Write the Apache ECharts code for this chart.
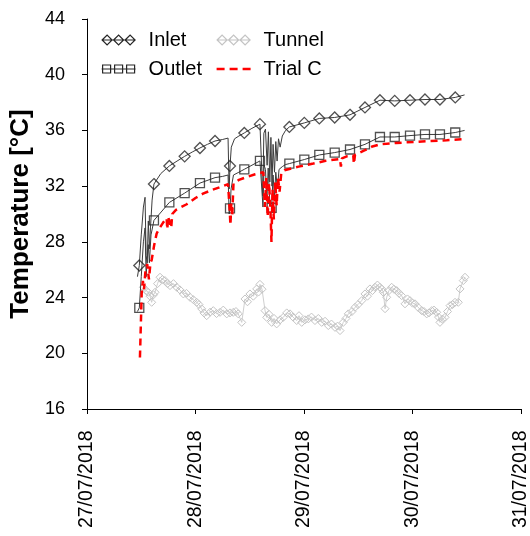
<!DOCTYPE html>
<html><head><meta charset="utf-8">
<script src="https://cdn.jsdelivr.net/npm/echarts@6/dist/echarts.min.js"></script>
<style>html,body{margin:0;padding:0;background:#fff}#c{width:530px;height:536px}</style>
</head><body><div id="c"></div>
<script>
// x values are days after 27/07/2018 00:00
const dateLabels = ['27/07/2018','28/07/2018','29/07/2018','30/07/2018','31/07/2018'];
const yMin = 16, yMax = 44, yStep = 4;

const inletMarks = [[0.482,26.3],[0.617,32.15],[0.759,33.45],[0.900,34.14],[1.041,34.74],[1.180,35.24],[1.318,33.45],[1.450,35.82],[1.594,36.45],[1.865,36.25],[2.003,36.54],[2.141,36.86],[2.283,36.93],[2.424,37.12],[2.562,37.65],[2.700,38.17],[2.836,38.12],[2.977,38.17],[3.115,38.22],[3.253,38.22],[3.394,38.37]];
const inletTrace = [[0.465,25.5],[0.500,28.5],[0.520,30.5],[0.535,31.2],[0.545,27.0],[0.555,26.5],[0.565,29.5],[0.575,27.5],[0.585,29.0],[0.600,31.0],[0.680,32.9],[0.830,33.8],[0.970,34.45],[1.110,35.0],[1.250,35.35],[1.300,35.45],[1.310,31.8],[1.330,34.8],[1.360,35.4],[1.400,35.6],[1.520,36.15],[1.612,36.4],[1.620,31.3],[1.630,35.8],[1.645,36.1],[1.660,33.5],[1.672,35.9],[1.685,32.3],[1.695,35.5],[1.705,32.0],[1.715,35.0],[1.728,33.0],[1.740,35.2],[1.752,33.8],[1.765,35.4],[1.780,34.8],[1.800,35.6],[1.830,36.0],[3.480,38.55]];

const outletMarks = [[0.482,23.26],[0.617,29.54],[0.759,30.83],[0.900,31.5],[1.041,32.22],[1.180,32.61],[1.318,30.4],[1.450,33.21],[1.594,33.81],[1.702,30.45],[1.865,33.62],[2.003,33.91],[2.141,34.24],[2.283,34.41],[2.424,34.63],[2.562,35.0],[2.700,35.53],[2.836,35.53],[2.977,35.63],[3.115,35.71],[3.253,35.71],[3.394,35.85]];
const outletTrace = [[0.465,23.0],[0.500,25.5],[0.520,28.0],[0.535,29.0],[0.545,25.5],[0.555,26.8],[0.565,27.8],[0.575,26.5],[0.590,28.5],[1.250,32.7],[1.300,32.8],[1.310,30.0],[1.328,31.8],[1.350,32.8],[1.400,33.0],[1.612,33.85],[1.622,30.5],[1.632,33.5],[1.645,33.2],[1.658,31.0],[1.670,33.3],[1.685,30.8],[1.715,32.8],[1.728,31.2],[1.740,33.0],[1.755,31.8],[1.770,33.2],[1.800,33.4],[1.830,33.55],[3.480,36.0]];

const tunnel = [[0.519,24.74],[0.544,24.5],[0.565,24.38],[0.581,24.1],[0.596,23.66],[0.613,24.2],[0.627,24.38],[0.650,25.0],[0.673,25.46],[0.696,25.3],[0.719,25.22],[0.742,25.0],[0.765,24.86],[0.797,25.0],[0.827,24.74],[0.857,24.55],[0.888,24.26],[0.917,24.3],[0.949,24.02],[0.980,23.85],[1.011,23.66],[1.032,23.5],[1.057,23.19],[1.078,22.9],[1.103,22.70],[1.134,22.95],[1.164,23.06],[1.194,22.85],[1.226,22.94],[1.256,23.1],[1.288,22.83],[1.318,22.9],[1.348,22.94],[1.373,23.0],[1.394,22.83],[1.426,22.22],[1.456,23.9],[1.479,23.7],[1.502,24.26],[1.533,24.1],[1.564,24.62],[1.581,24.4],[1.594,24.95],[1.613,24.6],[1.641,23.06],[1.656,22.58],[1.677,22.8],[1.702,22.22],[1.724,22.5],[1.748,22.11],[1.779,22.4],[1.809,22.58],[1.841,22.9],[1.871,22.83],[1.899,22.6],[1.933,22.35],[1.954,22.7],[1.979,22.22],[2.009,22.4],[2.040,22.47],[2.069,22.6],[2.101,22.35],[2.132,22.5],[2.163,22.22],[2.194,22.3],[2.224,21.99],[2.253,22.1],[2.286,21.86],[2.309,21.95],[2.332,21.63],[2.362,22.22],[2.387,22.5],[2.408,22.83],[2.442,23.0],[2.470,23.3],[2.498,23.5],[2.532,23.78],[2.562,24.26],[2.585,24.1],[2.608,24.62],[2.631,24.5],[2.654,24.74],[2.677,24.9],[2.700,24.74],[2.719,24.6],[2.731,24.38],[2.747,23.2],[2.762,24.02],[2.783,24.5],[2.808,24.74],[2.829,24.6],[2.854,24.5],[2.876,24.3],[2.900,24.14],[2.931,23.55],[2.954,23.9],[2.977,23.78],[3.000,23.6],[3.023,23.55],[3.051,23.3],[3.085,23.06],[3.106,23.0],[3.131,22.83],[3.152,22.9],[3.177,23.06],[3.198,23.1],[3.223,22.94],[3.240,22.6],[3.253,22.22],[3.276,22.45],[3.300,22.58],[3.323,23.0],[3.346,23.42],[3.369,23.5],[3.392,23.66],[3.422,23.66],[3.438,24.62],[3.468,25.22],[3.484,25.46]];

const trialC = [[0.488,19.7],[0.504,24.3],[0.515,25.2],[0.525,24.6],[0.540,26.0],[0.555,26.4],[0.571,25.3],[0.585,26.5],[0.596,26.7],[0.620,27.8],[0.642,28.6],[0.670,29.0],[0.703,29.4],[0.734,29.7],[0.740,28.9],[0.748,29.8],[0.765,29.9],[0.776,29.0],[0.786,30.0],[0.820,30.3],[0.919,30.7],[1.000,31.15],[1.069,31.46],[1.150,31.72],[1.226,31.93],[1.300,32.15],[1.315,30.3],[1.322,29.2],[1.330,30.8],[1.338,29.8],[1.350,32.2],[1.400,32.45],[1.472,32.65],[1.550,32.85],[1.625,33.0],[1.640,30.5],[1.652,32.6],[1.665,29.8],[1.678,32.2],[1.690,30.5],[1.700,28.0],[1.710,31.8],[1.722,29.6],[1.735,32.3],[1.748,30.6],[1.760,32.6],[1.775,31.6],[1.790,32.9],[1.820,33.14],[1.950,33.4],[2.086,33.62],[2.200,33.82],[2.332,33.95],[2.340,33.4],[2.350,34.0],[2.394,34.14],[2.454,34.2],[2.460,33.6],[2.470,34.25],[2.562,34.58],[2.630,34.85],[2.700,35.0],[2.850,35.1],[3.007,35.17],[3.160,35.24],[3.315,35.3],[3.468,35.37]];

function merged(a, b) { return a.concat(b).sort((p, q) => p[0] - q[0]); }

const FONT = 'Liberation Sans, Arial, sans-serif';
const DARK = '#262626';
const iconDiamonds = 'path://M0 5L34 5M0.5 5L5.5 0L10.5 5L5.5 10ZM12 5L17 0L22 5L17 10ZM23.5 5L28.5 0L33.5 5L28.5 10Z';
const iconSquares = 'path://M0 5L34 5M1 1H9V9H1ZM13 1H21V9H13ZM25 1H33V9H25ZM0 0M34 10';
const iconDashes = 'path://M0 0M34 10M0 3.8H8V6.2H0ZM13 3.8H21V6.2H13ZM26 3.8H34V6.2H26Z';

const chart = echarts.init(document.getElementById('c'), null, {renderer: 'canvas'});
const legendText = {fontSize: 20, color: '#000', fontFamily: FONT, padding: [0, 0, 0, 8], lineHeight: 20};
chart.setOption({
  animation: false,
  backgroundColor: '#fff',
  grid: {left: 87, right: 9, top: 19, bottom: 127, outerBoundsMode: 'none', containLabel: false},
  legend: [
    {orient: 'vertical', left: 96, top: 25, itemWidth: 34, itemHeight: 10, itemGap: 9, selectedMode: false,
     textStyle: legendText,
     data: [
       {name: 'Inlet', icon: iconDiamonds, itemStyle: {color: 'rgba(0,0,0,0)', borderColor: DARK, borderWidth: 1.2}},
       {name: 'Outlet', icon: iconSquares, itemStyle: {color: 'rgba(0,0,0,0)', borderColor: DARK, borderWidth: 1.2}}
     ]},
    {orient: 'vertical', left: 211, top: 25, itemWidth: 34, itemHeight: 10, itemGap: 9, selectedMode: false,
     textStyle: legendText,
     data: [
       {name: 'Tunnel', icon: iconDiamonds, itemStyle: {color: 'rgba(0,0,0,0)', borderColor: '#c4c4c4', borderWidth: 1.2}},
       {name: 'Trial C', icon: iconDashes, itemStyle: {color: '#ff0000', borderWidth: 0}}
     ]}
  ],
  xAxis: {
    type: 'value', min: 0, max: dateLabels.length - 1, interval: 1,
    splitLine: {show: false},
    axisLine: {show: true, onZero: false, lineStyle: {color: '#000', width: 1}},
    axisTick: {show: true, length: 5, lineStyle: {color: '#000'}},
    axisLabel: {rotate: 90, margin: 21.5, fontSize: 19.5, color: '#000', fontFamily: FONT,
      formatter: v => dateLabels[Math.round(v)]}
  },
  yAxis: {
    type: 'value', min: yMin, max: yMax, interval: yStep,
    name: 'Temperature [°C]', nameLocation: 'middle', nameGap: 50,
    nameTextStyle: {fontSize: 26, fontWeight: 'bold', color: '#000', fontFamily: FONT},
    splitLine: {show: false},
    axisLine: {show: true, onZero: false, lineStyle: {color: '#000', width: 1}},
    axisTick: {show: true, length: 5, lineStyle: {color: '#000'}},
    axisLabel: {margin: 22, fontSize: 18, color: '#000', fontFamily: FONT}
  },
  series: [
    {name: 'Tunnel', type: 'line', data: tunnel, symbol: 'diamond', symbolSize: 8, showSymbol: true,
     lineStyle: {color: '#cfcfcf', width: 1},
     itemStyle: {color: 'rgba(255,255,255,0)', borderColor: '#c4c4c4', borderWidth: 1}, z: 1},
    {name: 'Inlet', type: 'line', data: merged(inletTrace, inletMarks), symbol: 'none',
     lineStyle: {color: '#3c3c3c', width: 1}, z: 2},
    {name: 'Inlet', type: 'scatter', data: inletMarks, symbol: 'diamond', symbolSize: 11,
     itemStyle: {color: 'rgba(255,255,255,0)', borderColor: DARK, borderWidth: 1.3}, z: 3},
    {name: 'Outlet', type: 'line', data: merged(outletTrace, outletMarks), symbol: 'none',
     lineStyle: {color: '#3c3c3c', width: 1}, z: 2},
    {name: 'Outlet', type: 'scatter', data: outletMarks, symbol: 'rect', symbolSize: 9,
     itemStyle: {color: 'rgba(255,255,255,0)', borderColor: DARK, borderWidth: 1.3}, z: 3},
    {name: 'Trial C', type: 'line', data: trialC, symbol: 'none',
     lineStyle: {color: '#ff0000', width: 2.5, type: [7, 5]}, z: 4}
  ]
});
</script>
</body></html>
